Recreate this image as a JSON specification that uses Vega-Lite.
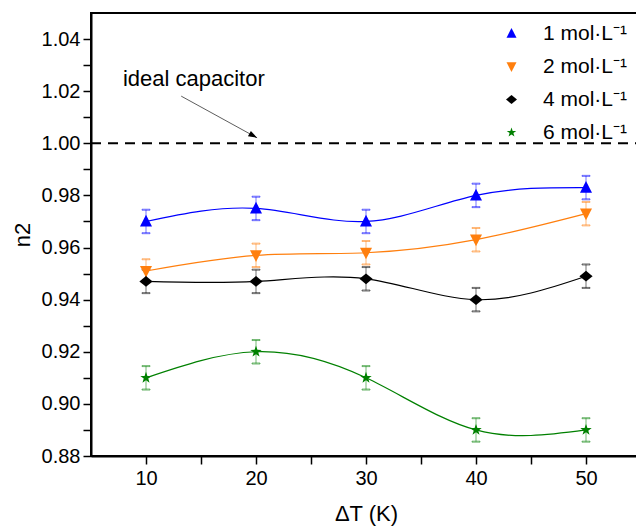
{
  "$schema": "https://vega.github.io/schema/vega-lite/v6.json",
  "autosize": "none",
  "width": 550,
  "height": 443,
  "padding": {"left": 91, "top": 13, "right": 0, "bottom": 70},
  "background": "white",
  "config": {
    "font": "Liberation Sans",
    "view": {"stroke": "black", "strokeWidth": 2},
    "axis": {
      "grid": false,
      "domainColor": "black",
      "domainWidth": 2,
      "tickColor": "black",
      "tickWidth": 1.5,
      "tickSize": 8,
      "labelColor": "black",
      "labelFont": "Liberation Sans",
      "labelFontSize": 20,
      "titleFont": "Liberation Sans",
      "titleFontSize": 22,
      "titleFontWeight": "normal",
      "titleColor": "black"
    },
    "legend": {
      "orient": "none",
      "legendX": 410,
      "legendY": 10,
      "labelFont": "Liberation Sans",
      "labelFontSize": 21,
      "labelColor": "black",
      "labelOffset": 21,
      "rowPadding": 11,
      "symbolStrokeWidth": 1
    }
  },
  "datasets": {
    "series": [
      {"c": "1 mol·L⁻¹", "t": 10, "n": 0.970, "lo": 0.9655, "hi": 0.9745},
      {"c": "1 mol·L⁻¹", "t": 20, "n": 0.975, "lo": 0.9705, "hi": 0.9795},
      {"c": "1 mol·L⁻¹", "t": 30, "n": 0.970, "lo": 0.9655, "hi": 0.9745},
      {"c": "1 mol·L⁻¹", "t": 40, "n": 0.980, "lo": 0.9755, "hi": 0.9845},
      {"c": "1 mol·L⁻¹", "t": 50, "n": 0.983, "lo": 0.9785, "hi": 0.9875},
      {"c": "2 mol·L⁻¹", "t": 10, "n": 0.951, "lo": 0.9465, "hi": 0.9555},
      {"c": "2 mol·L⁻¹", "t": 20, "n": 0.957, "lo": 0.9525, "hi": 0.9615},
      {"c": "2 mol·L⁻¹", "t": 30, "n": 0.958, "lo": 0.9535, "hi": 0.9625},
      {"c": "2 mol·L⁻¹", "t": 40, "n": 0.963, "lo": 0.9585, "hi": 0.9675},
      {"c": "2 mol·L⁻¹", "t": 50, "n": 0.973, "lo": 0.9685, "hi": 0.9775},
      {"c": "4 mol·L⁻¹", "t": 10, "n": 0.947, "lo": 0.9425, "hi": 0.9515},
      {"c": "4 mol·L⁻¹", "t": 20, "n": 0.947, "lo": 0.9425, "hi": 0.9515},
      {"c": "4 mol·L⁻¹", "t": 30, "n": 0.948, "lo": 0.9435, "hi": 0.9525},
      {"c": "4 mol·L⁻¹", "t": 40, "n": 0.940, "lo": 0.9355, "hi": 0.9445},
      {"c": "4 mol·L⁻¹", "t": 50, "n": 0.949, "lo": 0.9445, "hi": 0.9535},
      {"c": "6 mol·L⁻¹", "t": 10, "n": 0.910, "lo": 0.9055, "hi": 0.9145},
      {"c": "6 mol·L⁻¹", "t": 20, "n": 0.920, "lo": 0.9155, "hi": 0.9245},
      {"c": "6 mol·L⁻¹", "t": 30, "n": 0.910, "lo": 0.9055, "hi": 0.9145},
      {"c": "6 mol·L⁻¹", "t": 40, "n": 0.890, "lo": 0.8855, "hi": 0.8945},
      {"c": "6 mol·L⁻¹", "t": 50, "n": 0.890, "lo": 0.8855, "hi": 0.8945}
    ],
    "ideal": [{"t": 5, "n": 1.0}, {"t": 55, "n": 1.0}],
    "label": [{"t": 7.9, "n": 1.0246, "text": "ideal capacitor"}],
    "arrow": [{"t": 13.2, "n": 1.0181, "t2": 20.1, "n2": 1.0021}]
  },
  "encoding": {
    "x": {
      "field": "t",
      "type": "quantitative",
      "scale": {"domain": [5, 55], "nice": false, "zero": false},
      "axis": {
        "title": "ΔT (K)",
        "values": [10, 15, 20, 25, 30, 35, 40, 45, 50],
        "format": "d",
        "labelExpr": "datum.value % 10 === 0 ? datum.label : ''",
        "labelPadding": 4,
        "titlePadding": 15,
        "encode": {"ticks": {"y2": {"value": {"expr": "datum.value % 10 === 0 ? 8 : 4"}}}}
      }
    },
    "y": {
      "field": "n",
      "type": "quantitative",
      "scale": {"domain": [0.88, 1.05], "nice": false, "zero": false},
      "axis": {
        "title": "n2",
        "values": [0.88, 0.89, 0.9, 0.91, 0.92, 0.93, 0.94, 0.95, 0.96, 0.97, 0.98, 0.99, 1.0, 1.01, 1.02, 1.03, 1.04],
        "format": ".2f",
        "labelExpr": "round(datum.value * 100) % 2 === 0 ? datum.label : ''",
        "labelPadding": 3,
        "titlePadding": 7,
        "encode": {"ticks": {"x2": {"value": {"expr": "round(datum.value * 100) % 2 === 0 ? -8 : -4"}}}}
      }
    }
  },
  "layer": [
    {
      "data": {"name": "ideal"},
      "mark": {"type": "line", "color": "black", "strokeWidth": 2, "strokeDash": [10, 7]}
    },
    {
      "data": {"name": "label"},
      "mark": {"type": "text", "align": "left", "baseline": "middle", "fontSize": 22, "font": "Liberation Sans", "color": "black"},
      "encoding": {"text": {"field": "text"}}
    },
    {
      "data": {"name": "arrow"},
      "mark": {"type": "rule", "color": "#333333", "strokeWidth": 0.8},
      "encoding": {
        "x2": {"field": "t2"},
        "y2": {"field": "n2"}
      }
    },
    {
      "data": {"name": "arrow"},
      "mark": {"type": "point", "filled": true, "color": "black", "opacity": 1, "size": 64, "angle": 29, "shape": "M0,0L-2.2,-0.75L-2.2,0.75Z"},
      "encoding": {
        "x": {"field": "t2", "type": "quantitative"},
        "y": {"field": "n2", "type": "quantitative"}
      }
    },
    {
      "data": {"name": "series"},
      "mark": {"type": "rule", "strokeWidth": 1, "opacity": 0.55},
      "encoding": {
        "y": {"field": "lo", "type": "quantitative"},
        "y2": {"field": "hi"},
        "stroke": {
          "field": "c",
          "type": "nominal",
          "legend": null,
          "scale": {"domain": ["6 mol·L⁻¹", "4 mol·L⁻¹", "2 mol·L⁻¹", "1 mol·L⁻¹"], "range": ["#008000", "#000000", "#ff7f0e", "#0000ff"]}
        }
      }
    },
    {
      "data": {"name": "series"},
      "mark": {"type": "tick", "orient": "horizontal", "size": 8, "thickness": 1, "opacity": 0.55, "filled": false},
      "encoding": {
        "y": {"field": "lo", "type": "quantitative"},
        "stroke": {"field": "c", "type": "nominal", "legend": null}
      }
    },
    {
      "data": {"name": "series"},
      "mark": {"type": "tick", "orient": "horizontal", "size": 8, "thickness": 1, "opacity": 0.55, "filled": false},
      "encoding": {
        "y": {"field": "hi", "type": "quantitative"},
        "stroke": {"field": "c", "type": "nominal", "legend": null}
      }
    },
    {
      "data": {"name": "series"},
      "mark": {"type": "line", "interpolate": "natural", "strokeWidth": 1.2},
      "encoding": {
        "stroke": {"field": "c", "type": "nominal", "legend": null}
      }
    },
    {
      "data": {"name": "series"},
      "mark": {"type": "point", "filled": true, "opacity": 1, "size": 144},
      "encoding": {
        "color": {
          "field": "c",
          "type": "nominal",
          "scale": {
            "domain": ["1 mol·L⁻¹", "2 mol·L⁻¹", "4 mol·L⁻¹", "6 mol·L⁻¹"],
            "range": ["#0000ff", "#ff7f0e", "#000000", "#008000"]
          },
          "legend": {
            "title": null,
            "encode": {
              "symbols": {
                "size": {"value": 144},
                "strokeWidth": {"value": 1},
                "stroke": {"value": {"expr": "scale('color', datum.value)"}},
                "shape": {"value": {"expr": "datum.value === '1 mol·L⁻¹' ? 'M-4.25,0H4.25M0,-1.1L1,0.85L-1,0.85Z' : datum.value === '2 mol·L⁻¹' ? 'M-4.25,0H4.25M0,1.1L1,-0.85L-1,-0.85Z' : datum.value === '4 mol·L⁻¹' ? 'M-4.25,0H4.25M0,-0.9L1.1,0L0,0.9L-1.1,0Z' : 'M-4.25,0H4.25M0,-0.8L0.19,-0.26L0.76,-0.25L0.3,0.1L0.47,0.65L0,0.32L-0.47,0.65L-0.3,0.1L-0.76,-0.25L-0.19,-0.26Z'"}}
              }
            }
          }
        },
        "shape": {
          "field": "c",
          "type": "nominal",
          "legend": {
            "title": null,
            "encode": {
              "symbols": {
                "size": {"value": 144},
                "strokeWidth": {"value": 1},
                "stroke": {"value": {"expr": "scale('color', datum.value)"}},
                "shape": {"value": {"expr": "datum.value === '1 mol·L⁻¹' ? 'M-4.25,0H4.25M0,-1.1L1,0.85L-1,0.85Z' : datum.value === '2 mol·L⁻¹' ? 'M-4.25,0H4.25M0,1.1L1,-0.85L-1,-0.85Z' : datum.value === '4 mol·L⁻¹' ? 'M-4.25,0H4.25M0,-0.9L1.1,0L0,0.9L-1.1,0Z' : 'M-4.25,0H4.25M0,-0.8L0.19,-0.26L0.76,-0.25L0.3,0.1L0.47,0.65L0,0.32L-0.47,0.65L-0.3,0.1L-0.76,-0.25L-0.19,-0.26Z'"}}
              }
            }
          },
          "scale": {
            "domain": ["1 mol·L⁻¹", "2 mol·L⁻¹", "4 mol·L⁻¹", "6 mol·L⁻¹"],
            "range": [
              "M0,-1.1L1,0.85L-1,0.85Z",
              "M0,1.1L1,-0.85L-1,-0.85Z",
              "M0,-0.9L1.1,0L0,0.9L-1.1,0Z",
              "M0,-1L0.235,-0.324L0.951,-0.309L0.38,0.124L0.588,0.809L0,0.4L-0.588,0.809L-0.38,0.124L-0.951,-0.309L-0.235,-0.324Z"
            ]
          }
        }
      }
    }
  ]
}
